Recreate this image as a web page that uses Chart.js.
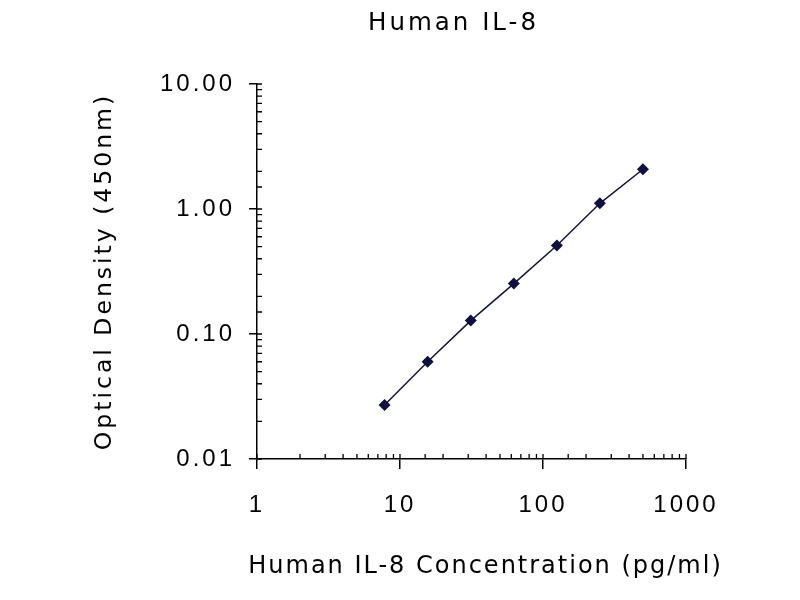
<!DOCTYPE html>
<html>
<head>
<meta charset="utf-8">
<script src="https://cdn.jsdelivr.net/npm/chart.js@4.4.1/dist/chart.umd.min.js"></script>
<style>
  html, body { margin: 0; padding: 0; background: #ffffff; }
  #wrap { width: 800px; height: 600px; }
</style>
</head>
<body>
<div id="wrap"><canvas id="c" width="800" height="600"></canvas></div>
<script>
const chartTitle = 'Human IL-8';
const xAxisTitle = 'Human IL-8 Concentration (pg/ml)';
const yAxisTitle = 'Optical Density (450nm)';
const concentrations = [7.8, 15.6, 31.25, 62.5, 125, 250, 500];
const opticalDensity = [0.027, 0.060, 0.128, 0.253, 0.511, 1.11, 2.08];
const xTickValues = [1, 10, 100, 1000];
const xTickLabels = ['1', '10', '100', '1000'];
const yTickValues = [0.01, 0.1, 1, 10];
const yTickLabels = ['0.01', '0.10', '1.00', '10.00'];

function matchIndex(values, v) {
  for (let i = 0; i < values.length; i++) {
    if (Math.abs(Math.log10(v) - Math.log10(values[i])) < 1e-6) return i;
  }
  return -1;
}
function isMajor(values, v) { return matchIndex(values, v) >= 0; }

const SPACING = '3px';
const spacing = {
  id: 'spacing',
  beforeLayout(c) { c.ctx.letterSpacing = SPACING; },
  beforeDraw(c) { c.ctx.letterSpacing = SPACING; }
};

// Chart title and x-axis title drawn as canvas text (Chart.js would squeeze the
// x title to the chart-area width).
const titleText = {
  id: 'titleText',
  afterDraw(chart) {
    const ctx = chart.ctx;
    ctx.save();
    ctx.fillStyle = '#000';
    ctx.textAlign = 'center';
    ctx.textBaseline = 'middle';
    ctx.letterSpacing = '3px';
    ctx.font = 'normal 24.5px "DejaVu Sans"';
    ctx.fillText(chartTitle, 453.5, 24);
    ctx.letterSpacing = '2px';
    ctx.font = 'normal 24px "DejaVu Sans"';
    ctx.fillText(xAxisTitle, 485.5, 567);
    ctx.restore();
  }
};

const innerTicks = {
  id: 'innerTicks',
  afterDraw(chart) {
    const ctx = chart.ctx, xs = chart.scales.x, ys = chart.scales.y;
    ctx.save();
    ctx.strokeStyle = '#000';
    ctx.lineWidth = 1.3;
    ctx.beginPath();
    xs.ticks.forEach(t => {
      const px = xs.getPixelForValue(t.value);
      ctx.moveTo(px, xs.top);
      ctx.lineTo(px, xs.top - 5);
    });
    ys.ticks.forEach(t => {
      const py = ys.getPixelForValue(t.value);
      ctx.moveTo(ys.right, py);
      ctx.lineTo(ys.right + 5, py);
    });
    ctx.stroke();
    ctx.restore();
  }
};

new Chart(document.getElementById('c'), {
  type: 'scatter',
  data: {
    datasets: [{
      data: concentrations.map((x, i) => ({ x: x, y: opticalDensity[i] })),
      showLine: true,
      borderColor: '#141438',
      borderWidth: 1.5,
      backgroundColor: '#10103f',
      pointStyle: 'rectRot',
      pointRadius: 6,
      pointHoverRadius: 6,
      pointBorderWidth: 0
    }]
  },
  options: {
    responsive: false,
    animation: false,
    devicePixelRatio: 1,
    layout: { padding: { left: 0, right: 114, top: 84, bottom: 0 } },
    plugins: {
      legend: { display: false },
      tooltip: { enabled: false },
      title: { display: false }
    },
    scales: {
      x: {
        type: 'logarithmic',
        position: 'bottom',
        min: 1,
        max: 1000,
        afterFit(s) { s.height = 141; },
        grid: {
          drawOnChartArea: false,
          drawTicks: true,
          tickLength: 10,
          lineWidth: 1.5,
          color: c => (c.tick && isMajor(xTickValues, c.tick.value)) ? '#000' : 'rgba(0,0,0,0)'
        },
        border: { display: true, color: '#000', width: 1.5 },
        ticks: {
          autoSkip: false,
          maxRotation: 0,
          minRotation: 0,
          padding: 22,
          color: '#000',
          font: { family: '"Liberation Sans Narrow", "Liberation Sans"', size: 24 },
          callback: v => { const i = matchIndex(xTickValues, v); return i >= 0 ? xTickLabels[i] : ''; }
        },
        title: { display: false }
      },
      y: {
        type: 'logarithmic',
        position: 'left',
        min: 0.01,
        max: 10,
        afterFit(s) { s.width = 257; },
        grid: {
          drawOnChartArea: false,
          drawTicks: true,
          tickLength: 8,
          lineWidth: 1.5,
          color: c => (c.tick && isMajor(yTickValues, c.tick.value)) ? '#000' : 'rgba(0,0,0,0)'
        },
        border: { display: true, color: '#000', width: 1.5 },
        ticks: {
          autoSkip: false,
          padding: 14,
          color: '#000',
          font: { family: '"Liberation Sans Narrow", "Liberation Sans"', size: 24 },
          callback: v => { const i = matchIndex(yTickValues, v); return i >= 0 ? yTickLabels[i] : ''; }
        },
        title: {
          display: true,
          text: yAxisTitle,
          color: '#000',
          font: { family: '"DejaVu Sans"', size: 23.5 },
          padding: { top: 91, bottom: 0 }
        }
      }
    }
  },
  plugins: [spacing, innerTicks, titleText]
});
</script>
</body>
</html>
